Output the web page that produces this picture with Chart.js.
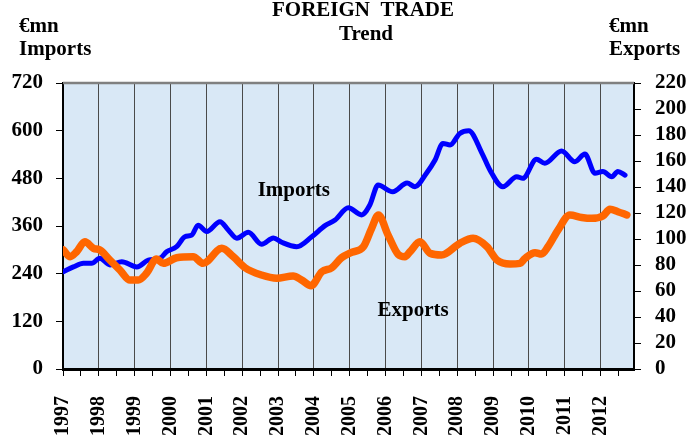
<!DOCTYPE html>
<html>
<head>
<meta charset="utf-8">
<script src="https://cdn.jsdelivr.net/npm/chart.js@4"></script>
<style>
  html, body { margin: 0; padding: 0; background: #fff; }
  #wrap { width: 688px; height: 435px; }
</style>
</head>
<body>
<div id="wrap"><canvas id="trade"></canvas></div>
<script>
// years shown on the x axis
const years = [1997, 1998, 1999, 2000, 2001, 2002, 2003, 2004, 2005, 2006, 2007, 2008, 2009, 2010, 2011, 2012];

// imports trend, EUR mn (left axis)
const importDates = [1997.01, 1997.29, 1997.57, 1997.80, 1998.03, 1998.31, 1998.64, 1999.06, 1999.38, 1999.71,
  1999.89, 2000.17, 2000.40, 2000.59, 2000.77, 2001.01, 2001.38, 2001.61, 2001.85, 2002.17,
  2002.54, 2002.87, 2003.10, 2003.52, 2003.94, 2004.31, 2004.59, 2004.96, 2005.33, 2005.56,
  2005.79, 2006.20, 2006.60, 2006.82, 2007.14, 2007.38, 2007.60, 2007.80, 2008.07, 2008.32,
  2008.69, 2008.91, 2009.27, 2009.66, 2009.83, 2010.21, 2010.44, 2010.91, 2011.28, 2011.56,
  2011.84, 2012.06, 2012.31, 2012.48, 2012.68];
const imports = [245, 257, 266, 266, 279, 262, 270, 257, 274, 279,
  295, 308, 333, 337, 362, 346, 371, 350, 329, 344,
  314, 330, 319, 308, 333, 361, 375, 406, 388, 413,
  463, 446, 468, 459, 493, 526, 568, 564, 593, 600,
  543, 501, 459, 484, 480, 528, 518, 549, 522, 541,
  493, 497, 484, 497, 488];

// exports trend, EUR mn (right axis)
const exportDates = [1997.01, 1997.20, 1997.38, 1997.61, 1997.85, 1998.03, 1998.31, 1998.59, 1998.87, 1999.10,
  1999.33, 1999.61, 1999.80, 2000.17, 2000.63, 2000.91, 2001.43, 2001.75, 2002.08, 2002.54,
  2002.96, 2003.42, 2003.66, 2003.92, 2004.22, 2004.50, 2004.77, 2005.05, 2005.38, 2005.61,
  2005.80, 2006.07, 2006.35, 2006.54, 2006.68, 2006.96, 2007.24, 2007.56, 2008.07, 2008.44,
  2008.83, 2009.11, 2009.47, 2009.75, 2009.89, 2010.17, 2010.35, 2010.53, 2010.81, 2011.14,
  2011.47, 2011.75, 2012.06, 2012.26, 2012.48, 2012.73];
const exportsData = [91.5, 86.4, 90.2, 97.9, 92.8, 91.5, 83.8, 76.1, 68.4, 68.4,
  73.6, 84.6, 81.3, 85.6, 86.4, 81.3, 92.8, 86.4, 77.9, 72.3,
  69.8, 71.5, 68.4, 64.1, 74.8, 77.9, 85.6, 89.7, 94, 108.2,
  118.5, 103, 88.2, 86.4, 90.2, 97.9, 89, 87.7, 96.7, 100.5,
  94, 83.8, 80.8, 81.3, 85.1, 89.5, 88.4, 94, 106.9, 118.5,
  116.6, 115.9, 117.7, 122.8, 121, 118.5];

const FONT = 'Liberation Serif';

const toPoints = (xs, ys) => xs.map((x, i) => ({ x: x, y: ys[i] }));

// half-year ticks: labelled years plus unlabelled minor ticks
const xTicks = [];
years.forEach(y => { xTicks.push(y); xTicks.push(y + 0.5); });

const decor = {
  id: 'decor',
  beforeDraw(chart) {
    const { ctx, chartArea: a } = chart;
    ctx.save();
    ctx.fillStyle = '#d9e8f6';
    ctx.fillRect(a.left, a.top, a.right - a.left, a.bottom - a.top);
    ctx.restore();
  },
  afterDraw(chart) {
    const { ctx, chartArea: a, scales } = chart;
    ctx.save();
    ctx.strokeStyle = '#808080';
    ctx.lineWidth = 2.5;
    ctx.beginPath();
    ctx.moveTo(a.left, a.top);
    ctx.lineTo(a.right, a.top);
    ctx.stroke();

    ctx.fillStyle = '#000';
    ctx.font = 'bold 21px "' + FONT + '"';
    ctx.textBaseline = 'alphabetic';
    ctx.textAlign = 'left';
    ctx.fillText('€mn', 19, 32);
    ctx.fillText('Imports', 19, 55);
    ctx.fillText('€mn', 609, 32);
    ctx.fillText('Exports', 609, 55);
    ctx.textAlign = 'center';
    ctx.fillText('FOREIGN  TRADE', 363, 16);
    ctx.fillText('Trend', 366, 40);

    ctx.textBaseline = 'middle';
    ctx.fillText('Imports', scales.x.getPixelForValue(2003.44), scales.y.getPixelForValue(450));
    ctx.fillText('Exports', scales.x.getPixelForValue(2006.77), scales.y1.getPixelForValue(45));
    ctx.restore();
  }
};

new Chart(document.getElementById('trade'), {
  type: 'line',
  data: {
    datasets: [{
      label: 'Imports',
      data: toPoints(importDates, imports),
      yAxisID: 'y',
      borderColor: '#0000ff',
      borderWidth: 5,
      order: 2
    }, {
      label: 'Exports',
      data: toPoints(exportDates, exportsData),
      yAxisID: 'y1',
      borderColor: '#ff6600',
      borderWidth: 7.5,
      order: 1
    }]
  },
  options: {
    responsive: true,
    maintainAspectRatio: false,
    animation: false,
    layout: { padding: { top: 83, left: 0, right: 0, bottom: 0 } },
    elements: {
      point: { radius: 0 },
      line: { cubicInterpolationMode: 'monotone', borderCapStyle: 'round', borderJoinStyle: 'round' }
    },
    plugins: { legend: { display: false }, tooltip: { enabled: false } },
    scales: {
      x: {
        type: 'linear',
        min: 1997,
        max: 2012.93,
        afterBuildTicks: s => { s.ticks = xTicks.map(v => ({ value: v })); },
        afterFit: s => { s.height = 66; },
        ticks: {
          autoSkip: false,
          minRotation: 90,
          maxRotation: 90,
          padding: 20,
          color: '#000',
          font: { family: FONT, size: 20, weight: 'bold' },
          callback: v => Number.isInteger(v) ? String(v) : ''
        },
        grid: {
          color: c => (c.tick && Number.isInteger(c.tick.value)) ? '#4a4a4a' : 'rgba(0,0,0,0)',
          tickColor: '#000',
          tickLength: 7,
          lineWidth: 1
        },
        border: { color: '#000', width: 3 }
      },
      y: {
        position: 'left',
        min: 0,
        max: 720,
        afterFit: s => { s.width = 63; },
        ticks: {
          stepSize: 120,
          autoSkip: false,
          padding: 13,
          color: '#000',
          font: { family: FONT, size: 21, weight: 'bold' }
        },
        grid: { drawOnChartArea: false, tickColor: '#000', tickLength: 7 },
        border: { color: '#000', width: 2 }
      },
      y1: {
        position: 'right',
        min: 0,
        max: 220,
        afterFit: s => { s.width = 54; },
        ticks: {
          stepSize: 20,
          autoSkip: false,
          padding: 14,
          color: '#000',
          font: { family: FONT, size: 21, weight: 'bold' }
        },
        grid: { drawOnChartArea: false, tickColor: '#000', tickLength: 7 },
        border: { color: '#000', width: 2 }
      }
    }
  },
  plugins: [decor]
});
</script>
</body>
</html>
